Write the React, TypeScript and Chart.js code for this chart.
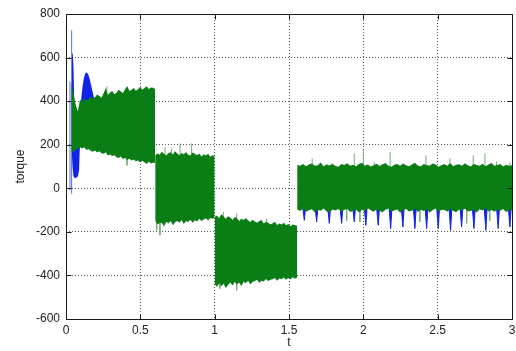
import React, { useEffect, useRef } from 'react';
import { Chart, registerables } from 'chart.js';

Chart.register(...registerables);

// ---- axes ----
const X_TICKS = [0, 0.5, 1, 1.5, 2, 2.5, 3];
const Y_TICKS = [-600, -400, -200, 0, 200, 400, 600, 800];

// ---- green signal: envelope of the dense oscillation, per segment ----
const seg1Span = [0.036, 0.6];
const seg1High = [480, 432, 385, 352, 405, 398, 412, 404, 409, 420, 412, 418, 430, 424, 416, 436, 460, 428, 440, 447, 432, 438, 452, 444, 437, 455, 470, 446, 452, 460, 448, 455, 466, 452, 460, 468, 456, 463, 462, 455];
const seg1Low = [170, 168, 175, 182, 188, 183, 188, 176, 180, 172, 168, 174, 164, 170, 161, 158, 165, 150, 155, 148, 152, 143, 139, 146, 134, 140, 130, 136, 128, 132, 124, 128, 118, 126, 120, 112, 122, 114, 117, 116];

const seg2Span = [0.6, 1.0];
const seg2High = [152, 160, 154, 168, 158, 150, 162, 165, 155, 170, 160, 152, 162, 156, 166, 154, 150, 164, 158, 152, 160, 146, 156, 150, 158, 145, 152, 148];
const seg2Low = [-150, -165, -160, -158, -175, -154, -162, -150, -168, -156, -150, -158, -146, -164, -150, -155, -144, -158, -147, -152, -140, -150, -143, -138, -148, -136, -140, -135];

const seg3Span = [1.0, 1.555];
const seg3High = [-132, -125, -138, -118, -130, -140, -128, -134, -145, -132, -138, -150, -140, -146, -136, -148, -155, -144, -152, -158, -150, -146, -162, -154, -158, -166, -160, -154, -168, -162, -166, -158, -170, -164, -174, -166, -170, -172];
const seg3Low = [-440, -452, -436, -448, -438, -458, -444, -432, -446, -430, -440, -434, -448, -428, -436, -424, -440, -430, -426, -420, -434, -424, -428, -416, -426, -420, -418, -412, -424, -414, -418, -410, -420, -412, -418, -408, -415, -410];

const seg4Span = [1.555, 3.0];
const seg4High = [108, 104, 112, 101, 109, 114, 103, 106, 118, 100, 110, 105, 113, 102, 99, 111, 107, 115, 103, 108, 101, 112, 117, 104, 109, 100, 106, 113, 102, 110, 116, 104, 99, 108, 111, 103, 114, 106, 101, 109, 117, 105, 100, 111, 107, 103, 114, 109, 99, 106, 112, 104, 116, 101, 108, 110, 103, 115, 106, 100, 112, 107, 104, 113, 101, 109, 116, 103, 107, 111, 100, 108, 104, 106];
const seg4Low = [-98, -104, -94, -108, -101, -96, -110, -99, -103, -93, -106, -112, -97, -102, -95, -107, -100, -94, -109, -103, -97, -111, -99, -105, -92, -101, -108, -96, -104, -110, -98, -93, -106, -102, -97, -112, -100, -95, -107, -103, -94, -109, -99, -104, -96, -111, -101, -93, -106, -100, -98, -108, -95, -103, -110, -97, -101, -94, -107, -104, -99, -111, -96, -102, -93, -106, -100, -108, -97, -103, -95, -109, -101, -98];

// ---- green isolated spikes (thin lines beyond the envelope) ----
const spikeT = [0.275, 0.41, 0.61, 0.632, 0.666, 0.71, 0.722, 0.767, 0.845, 1.035, 1.058, 1.148, 1.148, 1.35, 1.656, 1.888, 1.939, 1.977, 2.0, 2.074, 2.18, 2.38, 2.421, 2.582, 2.695, 2.739, 2.818, 2.85, 2.896, 2.986];
const spikeBase = [400, 140, -120, -120, 120, 120, -120, 120, 120, -420, -150, -150, -420, -170, 80, -80, 80, -80, 80, 80, 80, -80, 80, 80, -80, 80, 80, -80, 80, 80];
const spikeTip = [468, 105, -193, -215, 190, 183, -165, 206, 206, -460, -108, -115, -468, -140, 137, -150, 160, -154, 183, 121, 167, -154, 151, 137, -161, 151, 160, -150, 123, 119];

// ---- blue signal: start-up transient ----
const blueT = [0.040, 0.045, 0.050, 0.055, 0.060, 0.070, 0.080, 0.088, 0.092, 0.100, 0.110, 0.120, 0.130, 0.140, 0.150, 0.160, 0.170, 0.180, 0.190, 0.200];
const blueHigh = [610, 624, 560, 420, 330, 320, 320, 330, 360, 395, 460, 505, 528, 532, 522, 500, 470, 440, 410, 395];
const blueLow = [150, 90, 55, 46, 46, 48, 55, 80, 170, 250, 250, 250, 250, 250, 250, 250, 250, 250, 250, 250];
const blueSpikeT = [0.027, 0.038];
const blueSpikeBase = [-10, -25];
const blueSpikeTip = [490, 725];

// ---- blue signal: periodic negative dips after t = 1.55 ----
const dipT = [1.603, 1.686, 1.771, 1.854, 1.939, 2.017, 2.1, 2.184, 2.266, 2.347, 2.426, 2.504, 2.587, 2.661, 2.744, 2.824, 2.907, 2.986];
const dipV = [-147, -154, -161, -161, -154, -170, -170, -185, -178, -185, -185, -185, -193, -178, -185, -193, -185, -178];
const DIP_BASE = -85;

const GREEN = '#0a7d14';
const GREEN_LIGHT = '#74ad74';
const BLUE = '#1222e6';
const BLUE_LIGHT = '#5d6fcf';
const FONT = { family: '"Liberation Sans", Arial, Helvetica, sans-serif', size: 12 };
const TEXT = '#222';

function sampleTimes(span: number[], n: number) {
  return Array.from({ length: n }, (_, i) => span[0] + ((span[1] - span[0]) * i) / (n - 1));
}

function bandFromTimes(t: number[], hi: number[], lo: number[], color: string, order: number) {
  return [
    {
      data: t.map((x, i) => ({ x, y: hi[i] })),
      borderColor: 'rgba(0,0,0,0)',
      borderWidth: 0,
      backgroundColor: color,
      fill: '+1',
      order,
    },
    {
      data: t.map((x, i) => ({ x, y: lo[i] })),
      borderColor: 'rgba(0,0,0,0)',
      borderWidth: 0,
      fill: false,
      order,
    },
  ];
}

function band(span: number[], hi: number[], lo: number[], color: string, order: number) {
  return bandFromTimes(sampleTimes(span, hi.length), hi, lo, color, order);
}

function spikes(t: number[], base: number[], tip: number[], color: string, order: number) {
  const data: { x: number; y: number | null }[] = [];
  t.forEach((x, i) => {
    data.push({ x, y: base[i] }, { x, y: tip[i] }, { x, y: null });
  });
  return { data, borderColor: color, borderWidth: 1, fill: false, spanGaps: false, order };
}

function dips() {
  const w = 0.011;
  const data: { x: number; y: number }[] = [{ x: seg4Span[0], y: DIP_BASE }];
  dipT.forEach((t, i) => {
    data.push({ x: t - w, y: DIP_BASE }, { x: t, y: dipV[i] }, { x: t + w * 0.8, y: DIP_BASE });
  });
  data.push({ x: seg4Span[1], y: DIP_BASE });
  return {
    data,
    borderColor: BLUE,
    borderWidth: 1,
    backgroundColor: BLUE,
    fill: { value: DIP_BASE },
    order: 4,
  };
}

const framePlugin = {
  id: 'frame',
  afterDraw(chart: any) {
    const { ctx, chartArea: a, scales } = chart;
    const L = Math.round(a.left) + 0.5;
    const R = Math.round(a.right) + 0.5;
    const T = Math.round(a.top) + 0.5;
    const B = Math.round(a.bottom) + 0.5;
    ctx.save();
    ctx.strokeStyle = '#1a1a1a';
    ctx.lineWidth = 1;
    ctx.setLineDash([]);
    ctx.beginPath();
    ctx.rect(L, T, R - L, B - T);
    const len = 5;
    scales.x.ticks.forEach((tk: any) => {
      const px = Math.round(scales.x.getPixelForValue(tk.value)) + 0.5;
      ctx.moveTo(px, B);
      ctx.lineTo(px, B - len);
      ctx.moveTo(px, T);
      ctx.lineTo(px, T + len);
    });
    scales.y.ticks.forEach((tk: any) => {
      const py = Math.round(scales.y.getPixelForValue(tk.value)) + 0.5;
      ctx.moveTo(L, py);
      ctx.lineTo(L + len, py);
      ctx.moveTo(R, py);
      ctx.lineTo(R - len, py);
    });
    ctx.stroke();
    ctx.restore();
  },
};

export default function App() {
  const ref = useRef<HTMLCanvasElement | null>(null);

  useEffect(() => {
    if (!ref.current) return;
    const datasets: any[] = [
      ...band(seg1Span, seg1High, seg1Low, GREEN, 1),
      ...band(seg2Span, seg2High, seg2Low, GREEN, 1),
      ...band(seg3Span, seg3High, seg3Low, GREEN, 1),
      ...band(seg4Span, seg4High, seg4Low, GREEN, 1),
      spikes(spikeT, spikeBase, spikeTip, GREEN_LIGHT, 2),
      ...bandFromTimes(blueT, blueHigh, blueLow, BLUE, 3),
      spikes(blueSpikeT, blueSpikeBase, blueSpikeTip, BLUE_LIGHT, 3),
      dips(),
    ];

    const chart = new Chart(ref.current, {
      type: 'line',
      data: { datasets },
      options: {
        animation: false,
        responsive: false,
        events: [],
        layout: { padding: { top: 14, right: 4, bottom: 0, left: 0 } },
        elements: { point: { radius: 0 }, line: { tension: 0 } },
        plugins: {
          legend: { display: false },
          tooltip: { enabled: false },
          title: { display: false },
        },
        scales: {
          x: {
            type: 'linear',
            min: 0,
            max: 3,
            afterBuildTicks: (s: any) => {
              s.ticks = X_TICKS.map((value) => ({ value }));
            },
            afterFit: (s: any) => {
              s.height = 32;
              s.paddingLeft = 0;
              s.paddingRight = 0;
            },
            grid: { color: '#555', lineWidth: 1, drawTicks: false },
            border: { display: false, dash: [1, 2] },
            ticks: {
              color: TEXT,
              font: FONT,
              padding: 4,
              maxRotation: 0,
              autoSkip: false,
              callback: (v: any) => String(v),
            },
            title: { display: true, text: 't', color: TEXT, font: FONT, padding: { top: 0, bottom: 1 } },
          },
          y: {
            type: 'linear',
            min: -600,
            max: 800,
            afterBuildTicks: (s: any) => {
              s.ticks = Y_TICKS.map((value) => ({ value }));
            },
            afterFit: (s: any) => {
              s.width = 66;
              s.paddingTop = 0;
              s.paddingBottom = 0;
            },
            grid: { color: '#555', lineWidth: 1, drawTicks: false },
            border: { display: false, dash: [1, 2] },
            ticks: { color: TEXT, font: FONT, padding: 6, autoSkip: false, callback: (v: any) => String(v) },
            title: { display: true, text: 'torque', color: TEXT, font: FONT, padding: { top: 13, bottom: 0 } },
          },
        },
      },
      plugins: [framePlugin],
    } as any);

    return () => chart.destroy();
  }, []);

  return (
    <div style={{ position: 'absolute', left: 0, top: 0, width: 516, height: 351, background: '#fff' }}>
      <canvas ref={ref} width={516} height={351} style={{ display: 'block' }} />
    </div>
  );
}
